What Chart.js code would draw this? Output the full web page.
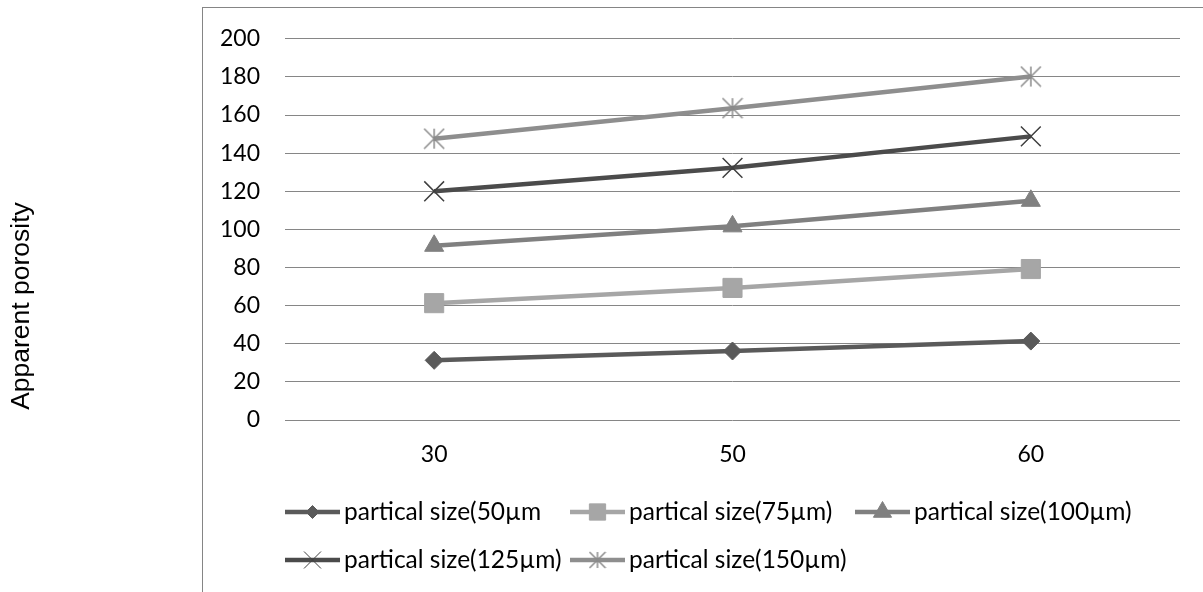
<!DOCTYPE html>
<html lang="en">
<head>
    <meta charset="utf-8">
    <title>Apparent porosity</title>
    <script src="https://cdn.jsdelivr.net/npm/chart.js"></script>
    <style>
        body { margin: 0; background: #fff; }
        #wrap { width: 1203px; height: 592px; }
    </style>
</head>
<body>
    <div id="wrap">
        <canvas id="porosityChart" width="1203" height="592"></canvas>
    </div>

    <script>
        // values
        const categories = ['30', '50', '60'];
        const size50 = [31.3, 36.2, 41.4];
        const size75 = [61.3, 69.3, 79.2];
        const size100 = [91.4, 101.6, 115.0];
        const size125 = [120.0, 132.3, 148.8];
        const size150 = [147.6, 163.6, 180.2];
        const seriesLabels = [
            'partical size(50µm',
            'partical size(75µm)',
            'partical size(100µm)',
            'partical size(125µm)',
            'partical size(150µm)'
        ];
        const yTitle = 'Apparent porosity';

        // asterisk marker (vertical bar + X), like the office one
        function makeStar(half, color) {
            const c = document.createElement('canvas');
            c.width = half * 2 + 2;
            c.height = half * 2 + 2;
            const g = c.getContext('2d');
            const m = half + 1;
            g.strokeStyle = color;
            g.lineWidth = 1.5;
            g.beginPath();
            g.moveTo(m, m - half); g.lineTo(m, m + half);
            g.moveTo(m - half, m - half); g.lineTo(m + half, m + half);
            g.moveTo(m + half, m - half); g.lineTo(m - half, m + half);
            g.stroke();
            return c;
        }

        const frameAndText = {
            id: 'frameAndText',
            beforeDraw(chart) {
                const ctx = chart.ctx;
                ctx.save();
                ctx.strokeStyle = '#858585';
                ctx.lineWidth = 1;
                ctx.strokeRect(202.5, 7.5, 1100, 700);
                ctx.restore();
            },
            afterDraw(chart) {
                const ctx = chart.ctx;
                ctx.save();
                // y axis title, sits out of the frame
                ctx.translate(22, 306);
                ctx.rotate(-Math.PI / 2);
                ctx.font = '26.5px "Liberation Sans", Arial, sans-serif';
                ctx.fillStyle = '#000';
                ctx.textAlign = 'center';
                ctx.textBaseline = 'middle';
                ctx.fillText(yTitle, 0, 0);
                ctx.restore();

                // legend: 3 columns, equal width, like excel does it
                const left = chart.chartArea.left;
                const top = 512, rowGap = 48, colWidth = 285;
                ctx.save();
                ctx.font = '24.5px Lato, sans-serif';
                ctx.textBaseline = 'middle';
                chart.data.datasets.forEach((ds, i) => {
                    const x = left + (i % 3) * colWidth;
                    const y = top + Math.floor(i / 3) * rowGap;
                    ctx.strokeStyle = ds.borderColor;
                    ctx.lineWidth = ds.borderWidth;
                    ctx.beginPath();
                    ctx.moveTo(x, y);
                    ctx.lineTo(x + 55, y);
                    ctx.stroke();
                    ctx.fillStyle = ds.pointBackgroundColor;
                    ctx.strokeStyle = ds.pointBorderColor;
                    ctx.lineWidth = 1;
                    Chart.helpers.drawPoint(ctx, {
                        pointStyle: ds.legendPointStyle || ds.pointStyle,
                        radius: ds.legendPointRadius,
                        rotation: 0,
                        borderWidth: ds.pointBorderWidth
                    }, x + 27.5, y);
                    ctx.fillStyle = '#000';
                    ctx.fillText(ds.label, x + 59, y);
                });
                ctx.restore();
            }
        };

        const ctx = document.getElementById('porosityChart').getContext('2d');
        new Chart(ctx, {
            type: 'line',
            data: {
                labels: categories,
                datasets: [{
                    label: seriesLabels[0],
                    data: size50,
                    borderColor: '#5a5a5a',
                    pointBackgroundColor: '#5a5a5a',
                    pointBorderColor: '#5a5a5a',
                    pointStyle: 'rectRot',
                    pointRadius: 9,
                    legendPointRadius: 6.5,
                    pointBorderWidth: 1,
                    borderWidth: 4.5
                }, {
                    label: seriesLabels[1],
                    data: size75,
                    borderColor: '#a6a6a6',
                    pointBackgroundColor: '#a6a6a6',
                    pointBorderColor: '#a6a6a6',
                    pointStyle: 'rect',
                    pointRadius: 13.5,
                    legendPointRadius: 11.5,
                    pointBorderWidth: 1,
                    borderWidth: 4.5
                }, {
                    label: seriesLabels[2],
                    data: size100,
                    borderColor: '#808080',
                    pointBackgroundColor: '#808080',
                    pointBorderColor: '#808080',
                    pointStyle: 'triangle',
                    pointRadius: 11,
                    legendPointRadius: 10.5,
                    pointBorderWidth: 1,
                    borderWidth: 4.5
                }, {
                    label: seriesLabels[3],
                    data: size125,
                    borderColor: '#4b4b4b',
                    pointBackgroundColor: '#4b4b4b',
                    pointBorderColor: '#3f3f3f',
                    pointStyle: 'crossRot',
                    pointRadius: 14,
                    legendPointRadius: 12,
                    pointBorderWidth: 1.5,
                    borderWidth: 4.5
                }, {
                    label: seriesLabels[4],
                    data: size150,
                    borderColor: '#8e8e8e',
                    pointBackgroundColor: '#8e8e8e',
                    pointBorderColor: '#8e8e8e',
                    pointStyle: makeStar(10, '#8a8a8a'),
                    legendPointStyle: makeStar(8, '#8a8a8a'),
                    pointRadius: 10,
                    legendPointRadius: 8,
                    pointBorderWidth: 1,
                    borderWidth: 4.5
                }]
            },
            options: {
                responsive: false,
                animation: false,
                layout: { padding: { top: 37, right: 23, left: 0, bottom: 0 } },
                plugins: {
                    legend: { display: false },
                    tooltip: { enabled: false }
                },
                elements: { line: { tension: 0 } },
                scales: {
                    x: {
                        offset: true,
                        grid: { display: false, drawTicks: false },
                        border: { display: false },
                        ticks: { color: '#000', padding: 21, font: { family: 'Lato', size: 23 } },
                        afterFit(scale) { scale.height = 172; }
                    },
                    y: {
                        min: 0,
                        max: 200,
                        grid: { color: '#868686', lineWidth: 1, drawTicks: false },
                        border: { display: false },
                        ticks: { stepSize: 20, color: '#000', padding: 25, font: { family: 'Lato', size: 23 } },
                        afterFit(scale) { scale.width = 285; }
                    }
                }
            },
            plugins: [frameAndText]
        });
    </script>
</body>
</html>
